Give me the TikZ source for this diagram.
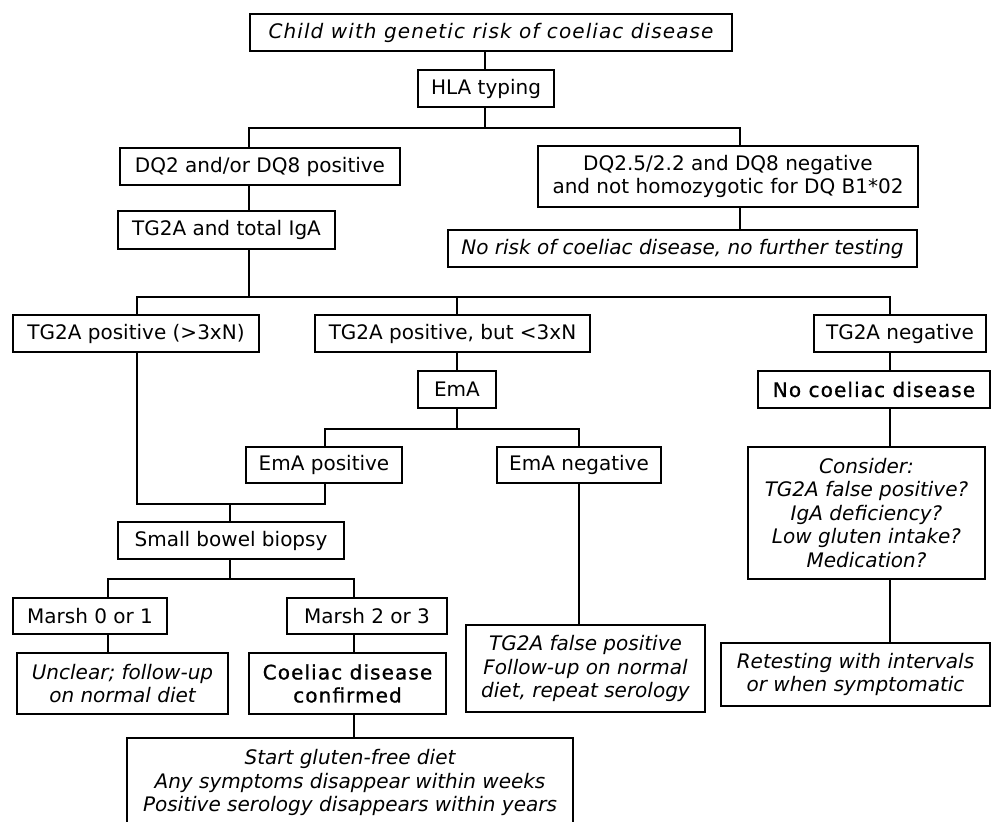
\documentclass[tikz,border=0pt]{standalone}
\usepackage{fontspec}
\setmainfont{DejaVu Sans}
\newfontfamily\spacedfont[LetterSpace=5.5]{DejaVu Sans}
\newfontfamily\heavyfont[LetterSpace=5.5, FakeBold=1]{DejaVu Sans}

\begin{document}
\begin{tikzpicture}[x=1pt, y=-1pt,
    box/.style={draw, line width=1.9pt, inner sep=0pt, align=center,
        font=\fontsize{20}{23}\selectfont},
    note/.style={box, font=\fontsize{20}{23.5}\selectfont\itshape},
    key/.style={box, font=\fontsize{20}{23}\heavyfont},
    link/.style={line width=1.9pt}]
    \clip (0, 0) rectangle (991, 822);

    % Columns of the connectors
    \coordinate (cTop) at (485, 0);
    \coordinate (cPos) at (249, 0);
    \coordinate (cNeg) at (740, 0);
    \coordinate (cHigh) at (137, 0);
    \coordinate (cLow) at (457, 0);
    \coordinate (cRight) at (890, 0);
    \coordinate (cEmaPos) at (325, 0);
    \coordinate (cEmaNeg) at (579, 0);
    \coordinate (cBiopsy) at (230, 0);
    \coordinate (cMarshA) at (108, 0);
    \coordinate (cMarshB) at (354, 0);

    % Genetic screening
    \node[box, font=\fontsize{20}{23}\spacedfont\itshape, minimum width=482, minimum height=37] (child) at (491, 32.5) {Child with genetic risk of coeliac disease};
    \node[box, minimum width=136, minimum height=37] (hla) at (486, 88.5) {HLA typing};
    \node[box, minimum width=280, minimum height=37] (dqpos) at (260, 166.5) {DQ2 and/or DQ8 positive};
    \node[box, minimum width=380, minimum height=61] (dqneg) at (728, 176.5) {DQ2.5/2.2 and DQ8 negative\\and not homozygotic for DQ B1*02};
    \node[note, minimum width=469, minimum height=37] (norisk) at (682.5, 248.5) {No risk of coeliac disease, no further testing};
    \node[box, minimum width=217, minimum height=38] (iga) at (226.5, 230) {TG2A and total IgA};

    % Serology
    \node[box, minimum width=246, minimum height=37] (high) at (136, 333.5) {TG2A positive (>3xN)};
    \node[box, minimum width=275, minimum height=37] (low) at (452.5, 333.5) {TG2A positive, but <3xN};
    \node[box, minimum width=172, minimum height=37] (neg) at (900, 333.5) {TG2A negative};
    \node[key, minimum width=232, minimum height=37] (nocd) at (874, 389.5) {No coeliac disease};
    \node[box, minimum width=78, minimum height=37] (ema) at (457, 389.5) {EmA};
    \node[box, minimum width=156, minimum height=36] (emapos) at (324, 465) {EmA positive};
    \node[box, minimum width=164, minimum height=36] (emaneg) at (579, 465) {EmA negative};
    \node[note, minimum width=237, minimum height=132] (consider) at (866.5, 513) {Consider:\\TG2A false positive?\\IgA deficiency?\\Low gluten intake?\\Medication?};

    % Biopsy and outcome
    \node[box, minimum width=226, minimum height=37] (biopsy) at (231, 540.5) {Small bowel biopsy};
    \node[box, minimum width=154, minimum height=36] (marshA) at (90, 616) {Marsh 0 or 1};
    \node[box, minimum width=160, minimum height=36] (marshB) at (367, 616) {Marsh 2 or 3};
    \node[note, minimum width=211, minimum height=61] (unclear) at (122.5, 683.5) {Unclear; follow-up\\on normal diet};
    \node[key, minimum width=197, minimum height=61] (confirmed) at (347.5, 683.5) {Coeliac disease\\confirmed};
    \node[note, minimum width=239, minimum height=87] (falsepos) at (585.5, 668.5) {TG2A false positive\\Follow-up on normal\\diet, repeat serology};
    \node[note, minimum width=269, minimum height=63] (retest) at (855.5, 674.5) {Retesting with intervals\\or when symptomatic};
    \node[note, minimum width=446, minimum height=89] (gfd) at (350, 782.5) {Start gluten-free diet\\Any symptoms disappear within weeks\\Positive serology disappears within years};

    % Connectors
    \draw[link] (child.south -| cTop) -- (hla.north -| cTop);
    \draw[link] (hla.south -| cTop) -- ++(0, 20) coordinate (split1);
    \draw[link] (dqpos.north -| cPos) |- (split1) -| (dqneg.north -| cNeg);
    \draw[link] (dqpos.south -| cPos) -- (iga.north -| cPos);
    \draw[link] (dqneg.south -| cNeg) -- (norisk.north -| cNeg);
    \draw[link] (iga.south -| cPos) -- ++(0, 47) coordinate (split2);
    \draw[link] (high.north -| cHigh) |- (split2) -| (neg.north -| cRight);
    \draw[link] (split2 -| cLow) -- (low.north -| cLow);
    \draw[link] (low.south -| cLow) -- (ema.north -| cLow);
    \draw[link] (ema.south -| cLow) -- ++(0, 20) coordinate (split3);
    \draw[link] (emapos.north -| cEmaPos) |- (split3) -| (emaneg.north -| cEmaNeg);
    \draw[link] (high.south -| cHigh) -- ++(0, 151) coordinate (join1) -| (emapos.south -| cEmaPos);
    \draw[link] (join1 -| cBiopsy) -- (biopsy.north -| cBiopsy);
    \draw[link] (neg.south -| cRight) -- (nocd.north -| cRight);
    \draw[link] (nocd.south -| cRight) -- (consider.north -| cRight);
    \draw[link] (consider.south -| cRight) -- (retest.north -| cRight);
    \draw[link] (emaneg.south -| cEmaNeg) -- (falsepos.north -| cEmaNeg);
    \draw[link] (biopsy.south -| cBiopsy) -- ++(0, 19) coordinate (split4);
    \draw[link] (marshA.north -| cMarshA) |- (split4) -| (marshB.north -| cMarshB);
    \draw[link] (marshA.south -| cMarshA) -- (unclear.north -| cMarshA);
    \draw[link] (marshB.south -| cMarshB) -- (confirmed.north -| cMarshB);
    \draw[link] (confirmed.south -| cMarshB) -- (gfd.north -| cMarshB);
\end{tikzpicture}
\end{document}
